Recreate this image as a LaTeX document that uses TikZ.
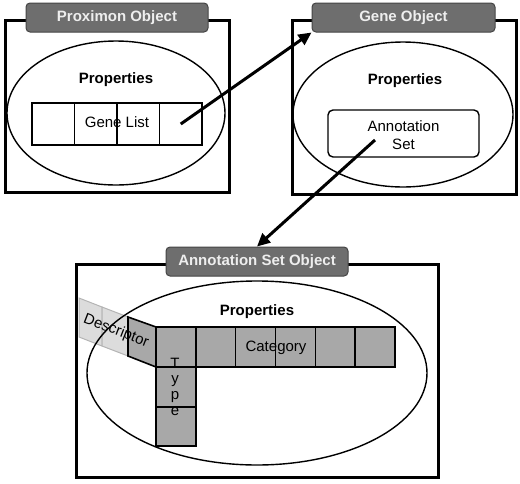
\documentclass[tikz,border=0pt]{standalone}
\usepackage{fontspec}
\setmainfont{Liberation Sans}
\usetikzlibrary{arrows.meta,shapes.geometric}
\definecolor{tabgray}{HTML}{6E6E6E}
\definecolor{tabedge}{HTML}{454545}
\definecolor{tabtext}{HTML}{EEEEEE}
\definecolor{cellgray}{HTML}{A8A8A8}
\definecolor{lightcell}{HTML}{DCDCDC}
\definecolor{lightedge}{HTML}{B4B4B4}
\begin{document}
\begin{tikzpicture}[x=1pt,y=-1pt,
  txt/.style={inner sep=0pt, font=\fontsize{15}{18}\selectfont},
  boldtxt/.style={txt, font=\fontsize{15}{18}\selectfont\bfseries},
  objbox/.style={draw, line width=3pt, inner sep=0pt, outer sep=0pt},
  tabbox/.style={draw=tabedge, line width=1pt, fill=tabgray, rounded corners=4pt,
    text=tabtext, font=\fontsize{15}{18}\selectfont\bfseries, inner sep=0pt,
    minimum height=29pt, minimum width=182pt},
  propell/.style={draw, ellipse, line width=1.4pt, inner sep=0pt},
  whitecell/.style={draw, fill=white, line width=1.6pt, inner sep=0pt, outer sep=0pt,
    minimum width=42.5pt, minimum height=42pt},
  graycell/.style={draw, fill=cellgray, line width=1.6pt, inner sep=0pt, outer sep=0pt,
    minimum width=39.83pt, minimum height=40pt},
  link/.style={line width=3pt, -{Triangle[length=13pt,width=12pt]}}
]
\useasboundingbox (0,0) rectangle (520,483);

% ---------- object boxes ----------
\node[objbox, minimum width=223.5pt, minimum height=172pt] (pbox) at (117.25,106) {};
\node[objbox, minimum width=224pt, minimum height=174pt] (gbox) at (404,107) {};
\node[objbox, minimum width=362pt, minimum height=213pt] (abox) at (257,370.5) {};

% ---------- title tabs ----------
\node[tabbox] (ptab) at (117,17.5) {Proximon Object};
\node[tabbox, minimum width=183pt] (gtab) at (403.5,17.5) {Gene Object};
\node[tabbox] (atab) at (257,261.5) {Annotation Set Object};

% ---------- descriptor light cells (behind ellipse) ----------
\coordinate (d0t) at (79,298);
\coordinate (d0b) at (79,337);
\coordinate (d1t) at (102,307);
\coordinate (d1b) at (102,346);
\coordinate (d2t) at (128,317);
\coordinate (d2b) at (128,356);
\coordinate (d3t) at (156,327);
\coordinate (d3b) at (156,367);
\draw[fill=lightcell, draw=lightedge, line width=1pt] (d0t) -- (d1t) -- (d1b) -- (d0b) -- cycle;
\draw[fill=lightcell, draw=lightedge, line width=1pt] (d1t) -- (d2t) -- (d2b) -- (d1b) -- cycle;

% ---------- properties ellipses ----------
\node[propell, minimum width=218pt, minimum height=144pt] (e1) at (116,113) {};
\node[propell, minimum width=220pt, minimum height=145pt] (e2) at (403,114.5) {};
\node[propell, minimum width=340pt, minimum height=184pt] (e3) at (257,373) {};

\node[boldtxt] (p1) at (116,80) {Properties};
\node[boldtxt] (p2) at (405,81) {Properties};
\node[boldtxt] (p3) at (257,312) {Properties};

% ---------- gene list ----------
\node[whitecell] (g1) at (53.25,124) {};
\node[whitecell] (g2) at (95.75,124) {};
\node[whitecell] (g3) at (138.25,124) {};
\node[whitecell] (g4) at (180.75,124) {};
\node[txt] (gl) at (117,122) {Gene List};

% ---------- annotation set ----------
\node[draw, line width=1.4pt, rounded corners=5pt, fill=white, inner sep=0pt,
  minimum width=151pt, minimum height=47pt] (aset) at (403.5,133.5) {};
\node[txt, align=center] (asettxt) at (403.5,135) {Annotation\\Set};
\coordinate (asetstart) at (375,140);

% ---------- descriptor dark cell ----------
\draw[fill=cellgray, line width=1.6pt] (d2t) -- (d3t) -- (d3b) -- (d2b) -- cycle;

% ---------- category row ----------
\node[graycell] (c1) at (175.92,347) {};
\node[graycell] (c2) at (215.75,347) {};
\node[graycell] (c3) at (255.58,347) {};
\node[graycell] (c4) at (295.42,347) {};
\node[graycell] (c5) at (335.25,347) {};
\node[graycell] (c6) at (375.08,347) {};
\node[txt] (cat) at (276,348) {Category};

% ---------- type column ----------
\node[graycell, minimum height=40pt] (t1) at (175.92,387) {};
\node[graycell, minimum height=39pt] (t2) at (175.92,426.5) {};
\node[txt, anchor=base] (ty1) at (175,368) {T};
\node[txt, anchor=base] (ty2) at (175,383) {y};
\node[txt, anchor=base] (ty3) at (175,399) {p};
\node[txt, anchor=base] (ty4) at (175,415) {e};

% ---------- descriptor label ----------
\node[txt, rotate=-21] (desc) at (116,331) {Descriptor};

% ---------- links ----------
\draw[link] (g4.center) -- (gtab.south west);
\draw[link] (asetstart) -- (atab.north);
\end{tikzpicture}
\end{document}
